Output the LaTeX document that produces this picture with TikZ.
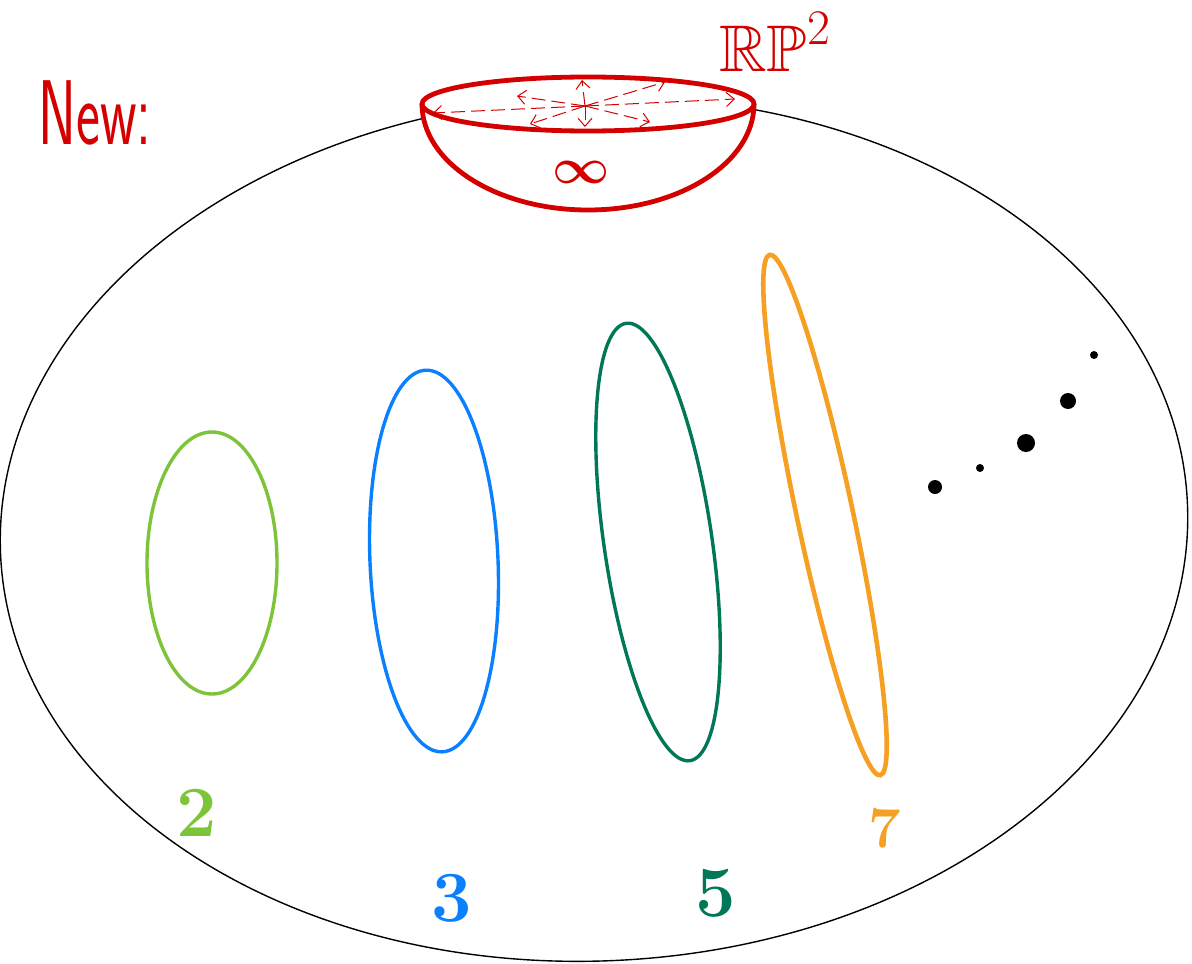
\documentclass[tikz,border=0pt]{standalone}
\usepackage{amsmath}
\usepackage{amssymb}
\usetikzlibrary{arrows.meta,positioning}

\definecolor{capred}{RGB}{212,0,0}
\definecolor{ringtwo}{RGB}{125,196,58}
\definecolor{ringthree}{RGB}{10,128,255}
\definecolor{ringfive}{RGB}{0,120,88}
\definecolor{ringseven}{RGB}{245,160,35}

\begin{document}
\begin{tikzpicture}[
  x=0.5pt, y=-0.5pt,
  shell/.style={draw=black, line width=0.7pt},
  crosscap/.style={draw=capred, line width=2.4pt},
  flow/.style={capred, line width=0.5pt, dashed, dash pattern=on 7pt off 3pt, -{Straight Barb[length=4pt,width=7pt]}},
  ring/.style={line width=1.7pt},
  digit/.style={font=\fontsize{36}{36}\selectfont\bfseries, inner sep=0pt}
]
\useasboundingbox (0,0) rectangle (1192,963);

% the surface
\draw[shell, rotate around={2.4:(594,529)}] (594,529) ellipse [x radius=594, y radius=432];

% the cross-cap at infinity
\draw[crosscap, fill=white] (422,104) arc [start angle=180, end angle=0, x radius=166, y radius=106];
\draw[crosscap, fill=white] (588,104) ellipse [x radius=166, y radius=27];
\coordinate (mid) at (585,106);
\foreach \dx/\dy in {-152/7, -68/-10, -3/-26, 80/-24, 150/-7, -55/18, 0/21, 65/16}
  \draw[flow] (mid) -- ++(\dx,\dy);
\node[capred, font=\fontsize{28}{28}\selectfont\boldmath] (inf) at (581,172) {$\infty$};
\node[capred, font=\fontsize{33}{33}\selectfont] (rp) at (775,42) {$\mathbb{RP}^2$};

\node[capred, font=\fontsize{46}{46}\selectfont\sffamily, xscale=0.62, transform shape, anchor=west] (new) at (34,113) {New:};

% the rings
\draw[ring, ringtwo] (212,563) ellipse [x radius=65, y radius=131];
\draw[ring, ringthree, rotate around={2.5:(434,561)}] (434,561) ellipse [x radius=64, y radius=191];
\draw[ring, ringfive, rotate around={8.3:(658,542)}] (658,542) ellipse [x radius=54, y radius=221];
\draw[ring, ringseven, line width=2.3pt, rotate around={12:(825,515)}] (825,515) ellipse [x radius=28, y radius=266];

\node[digit, ringtwo] (n2) at (197,813) {2};
\node[digit, ringthree] (n3) at (452,898) {3};
\node[digit, ringfive] (n5) at (716,893) {5};
\node[digit, ringseven, font=\fontsize{29}{29}\selectfont\bfseries] (n7) at (885,828) {7};

% and so on
\fill (935,487) circle [radius=7];
\fill (980,468) circle [radius=4];
\fill (1026,443) circle [radius=9];
\fill (1068,401) circle [radius=8];
\fill (1094,355) circle [radius=4];

\end{tikzpicture}
\end{document}
